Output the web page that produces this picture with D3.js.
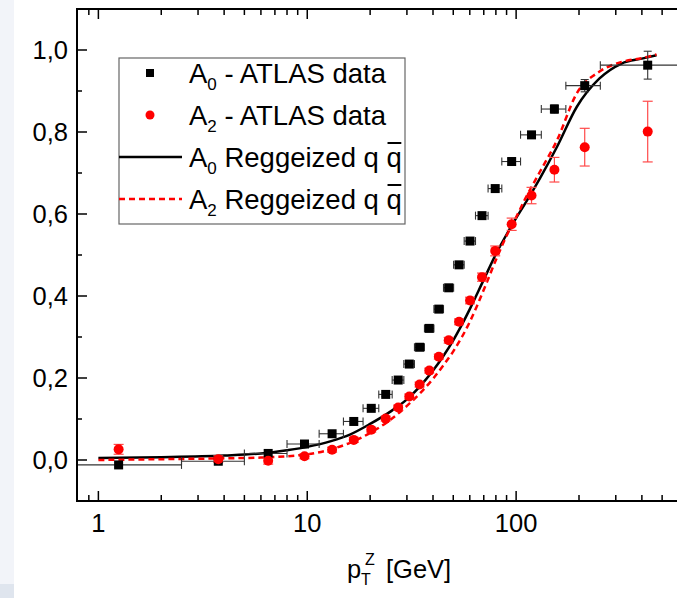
<!DOCTYPE html>
<html>
<head>
<meta charset="utf-8">
<script src="https://cdn.jsdelivr.net/npm/d3@7"></script>
<style>
  html, body { margin: 0; padding: 0; background: #fff; }
  svg { display: block; font-family: "Liberation Sans", Arial, sans-serif; }
</style>
</head>
<body>
<div id="chart"></div>
<script>
// ATLAS pT^Z bins: centres and edges (GeV)
const ptCenters = [1.25, 3.75, 6.5, 9.7, 13.15, 16.7, 20.25, 23.75, 27.25, 30.8, 34.5, 38.4, 42.65, 47.55, 53.3, 60.15, 68.65, 79.4, 95.2, 118.5, 152.5, 213, 426.5];
const ptLow = [0, 2.5, 5, 8, 11.4, 14.9, 18.5, 22, 25.5, 29, 32.6, 36.4, 40.4, 44.9, 50.2, 56.4, 63.9, 73.4, 85.4, 105, 132, 173, 253];
const ptHigh = [2.5, 5, 8, 11.4, 14.9, 18.5, 22, 25.5, 29, 32.6, 36.4, 40.4, 44.9, 50.2, 56.4, 63.9, 73.4, 85.4, 105, 132, 173, 253, 600];

// A0 data + errors
const a0Values = [-0.012, -0.003, 0.016, 0.039, 0.064, 0.094, 0.126, 0.160, 0.195, 0.234, 0.275, 0.321, 0.368, 0.420, 0.476, 0.534, 0.596, 0.662, 0.728, 0.793, 0.856, 0.913, 0.963];
const a0Err = [0.005, 0.005, 0.005, 0.005, 0.005, 0.005, 0.005, 0.005, 0.005, 0.005, 0.005, 0.005, 0.005, 0.005, 0.005, 0.005, 0.005, 0.006, 0.007, 0.008, 0.01, 0.015, 0.034];

// A2 data + errors
const a2Values = [0.026, 0.002, -0.002, 0.009, 0.025, 0.049, 0.074, 0.101, 0.128, 0.155, 0.184, 0.218, 0.252, 0.292, 0.337, 0.389, 0.446, 0.510, 0.575, 0.645, 0.708, 0.763, 0.801];
const a2Err = [0.012, 0.008, 0.008, 0.006, 0.006, 0.006, 0.006, 0.006, 0.006, 0.006, 0.006, 0.006, 0.006, 0.007, 0.007, 0.008, 0.010, 0.012, 0.015, 0.020, 0.030, 0.046, 0.074];

// Reggeized q qbar predictions
const curveX = [1, 2, 4, 6, 8, 10, 13, 16, 20, 25, 30, 35, 40, 45, 50, 55, 60, 70, 80, 90, 100, 110, 130, 157, 195, 250, 320, 400, 470];
const a0Curve = [0.005, 0.007, 0.011, 0.016, 0.024, 0.032, 0.046, 0.062, 0.088, 0.118, 0.148, 0.182, 0.218, 0.255, 0.292, 0.330, 0.368, 0.440, 0.502, 0.550, 0.590, 0.624, 0.687, 0.764, 0.861, 0.930, 0.967, 0.979, 0.987];
const a2Curve = [0.000, 0.002, 0.004, 0.006, 0.009, 0.014, 0.026, 0.042, 0.066, 0.098, 0.132, 0.165, 0.198, 0.232, 0.265, 0.300, 0.337, 0.415, 0.488, 0.547, 0.592, 0.635, 0.703, 0.780, 0.894, 0.947, 0.971, 0.980, 0.989];

const yMajor = [0, 0.2, 0.4, 0.6, 0.8, 1.0];
const yMinor = [0.1, 0.3, 0.5, 0.7, 0.9];
const xLabels = [1, 10, 100];

const W = 677, H = 598;
const RED = "#ff0000";

const svg = d3.select("#chart").append("svg")
    .attr("width", W).attr("height", H);

// light strip on the far left of the screenshot
svg.append("rect").attr("x", 0).attr("y", 0).attr("width", 14).attr("height", 584).attr("fill", "#f2f4f9");
svg.append("rect").attr("x", 0).attr("y", 584).attr("width", 14).attr("height", 14).attr("fill", "#dfe5ee");

const x = d3.scaleLog().domain([0.79, 1000]).range([77, 725]);
const y = d3.scaleLinear().domain([-0.1, 1.1]).range([501, 9]);
const [x0, x1] = x.range();
const [yb, yt] = y.range();

svg.append("clipPath").attr("id", "plot-clip")
  .append("rect").attr("x", x0).attr("y", yt).attr("width", x1 - x0).attr("height", yb - yt);

const plot = svg.append("g").attr("clip-path", "url(#plot-clip)");

// ticks (inward, bottom + top mirror, left)
const ticksG = svg.append("g").attr("stroke", "#000").attr("stroke-width", 1.5);
const xt = x.ticks().filter(v => v > 0.85);
xt.forEach(v => {
    const major = xLabels.includes(v) || v === 1000;
    const len = major ? 10 : 6;
    ticksG.append("line").attr("x1", x(v)).attr("x2", x(v)).attr("y1", yb).attr("y2", yb - len);
    ticksG.append("line").attr("x1", x(v)).attr("x2", x(v)).attr("y1", yt).attr("y2", yt + len);
});
yMajor.forEach(v => ticksG.append("line").attr("x1", x0).attr("x2", x0 + 10).attr("y1", y(v)).attr("y2", y(v)));
yMinor.forEach(v => ticksG.append("line").attr("x1", x0).attr("x2", x0 + 5).attr("y1", y(v)).attr("y2", y(v)));

// frame
svg.append("rect").attr("x", x0).attr("y", yt).attr("width", x1 - x0).attr("height", yb - yt)
    .attr("fill", "none").attr("stroke", "#000").attr("stroke-width", 2);

// tick labels
svg.append("g").selectAll("text").data(yMajor).join("text")
    .attr("x", 68).attr("y", d => y(d)).attr("dy", "0.36em")
    .attr("text-anchor", "end").attr("font-size", 25.5)
    .text(d => d3.format(".1f")(d).replace(".", ","));
svg.append("g").selectAll("text").data(xLabels).join("text")
    .attr("x", d => x(d)).attr("y", 532)
    .attr("text-anchor", "middle").attr("font-size", 25.5)
    .text(d => d);

// axis title p_T^Z [GeV]
const title = svg.append("g").attr("font-size", 25.5);
title.append("text").attr("x", 347).attr("y", 578).text("p");
title.append("text").attr("x", 361).attr("y", 585).attr("font-size", 16).text("T");
title.append("text").attr("x", 365).attr("y", 565).attr("font-size", 16).text("Z");
title.append("text").attr("x", 386).attr("y", 578).text("[GeV]");

// model curves
const line = (vals) => d3.line()
    .x((d, i) => x(curveX[i]))
    .y(d => y(d))
    .curve(d3.curveMonotoneX)(vals);

plot.append("path").attr("d", line(a0Curve))
    .attr("fill", "none").attr("stroke", "#000").attr("stroke-width", 2.5);
plot.append("path").attr("d", line(a2Curve))
    .attr("fill", "none").attr("stroke", RED).attr("stroke-width", 2.5)
    .attr("stroke-dasharray", "6,4");

// A0 error bars (x and y)
const errA0 = plot.append("g").attr("stroke", "#333").attr("stroke-width", 1.1);
ptCenters.forEach((c, i) => {
    const cy = y(a0Values[i]);
    const xl = x(Math.max(ptLow[i], 0.5)), xr = x(ptHigh[i]);
    errA0.append("line").attr("x1", xl).attr("x2", xr).attr("y1", cy).attr("y2", cy);
    errA0.append("line").attr("x1", xl).attr("x2", xl).attr("y1", cy - 4).attr("y2", cy + 4);
    errA0.append("line").attr("x1", xr).attr("x2", xr).attr("y1", cy - 4).attr("y2", cy + 4);
    const cx = x(c), ylo = y(a0Values[i] - a0Err[i]), yhi = y(a0Values[i] + a0Err[i]);
    errA0.append("line").attr("x1", cx).attr("x2", cx).attr("y1", ylo).attr("y2", yhi);
    errA0.append("line").attr("x1", cx - 4).attr("x2", cx + 4).attr("y1", ylo).attr("y2", ylo);
    errA0.append("line").attr("x1", cx - 4).attr("x2", cx + 4).attr("y1", yhi).attr("y2", yhi);
});

// A2 error bars (y only)
const errA2 = plot.append("g").attr("stroke", "#ff4a4a").attr("stroke-width", 1.2);
ptCenters.forEach((c, i) => {
    const cx = x(c), ylo = y(a2Values[i] - a2Err[i]), yhi = y(a2Values[i] + a2Err[i]);
    errA2.append("line").attr("x1", cx).attr("x2", cx).attr("y1", ylo).attr("y2", yhi);
    errA2.append("line").attr("x1", cx - 5).attr("x2", cx + 5).attr("y1", ylo).attr("y2", ylo);
    errA2.append("line").attr("x1", cx - 5).attr("x2", cx + 5).attr("y1", yhi).attr("y2", yhi);
});

// markers
plot.append("g").selectAll("rect").data(a0Values).join("rect")
    .attr("x", (d, i) => x(ptCenters[i]) - 4.5).attr("y", d => y(d) - 4.5)
    .attr("width", 9).attr("height", 9).attr("fill", "#000");
plot.append("g").selectAll("circle").data(a2Values).join("circle")
    .attr("cx", (d, i) => x(ptCenters[i])).attr("cy", d => y(d))
    .attr("r", 5).attr("fill", RED);

// legend
const lg = svg.append("g").attr("font-size", 27.5);
lg.append("rect").attr("x", 119).attr("y", 58).attr("width", 286).attr("height", 166)
    .attr("fill", "#fff").attr("stroke", "#666").attr("stroke-width", 1.2);

const rows = [83, 125, 167, 209];
lg.append("rect").attr("x", 146).attr("y", rows[0] - 14).attr("width", 8).attr("height", 8).attr("fill", "#000");
lg.append("circle").attr("cx", 150).attr("cy", rows[1] - 10).attr("r", 4.5).attr("fill", RED);
lg.append("line").attr("x1", 119).attr("x2", 182).attr("y1", rows[2] - 10).attr("y2", rows[2] - 10)
    .attr("stroke", "#000").attr("stroke-width", 2.5);
lg.append("line").attr("x1", 119).attr("x2", 182).attr("y1", rows[3] - 10).attr("y2", rows[3] - 10)
    .attr("stroke", RED).attr("stroke-width", 2.5).attr("stroke-dasharray", "6,4");

const legendText = [
    { sub: "0", rest: " - ATLAS data", qbar: false },
    { sub: "2", rest: " - ATLAS data", qbar: false },
    { sub: "0", rest: " Reggeized q ", qbar: true },
    { sub: "2", rest: " Reggeized q ", qbar: true }
];
legendText.forEach((t, i) => {
    const tx = lg.append("text").attr("x", 189).attr("y", rows[i]);
    tx.append("tspan").text("A");
    tx.append("tspan").attr("font-size", 17).attr("dy", 7).text(t.sub);
    tx.append("tspan").attr("dy", -7).text(t.rest);
    if (t.qbar) {
        tx.append("tspan").text("q");
        const node = tx.node();
        const n = node.getNumberOfChars() - 1;
        const s = node.getStartPositionOfChar(n).x, e = node.getEndPositionOfChar(n).x;
        lg.append("line").attr("x1", s + 1).attr("x2", e - 0.5)
            .attr("y1", rows[i] - 24).attr("y2", rows[i] - 24)
            .attr("stroke", "#000").attr("stroke-width", 2);
    }
});
</script>
</body>
</html>
